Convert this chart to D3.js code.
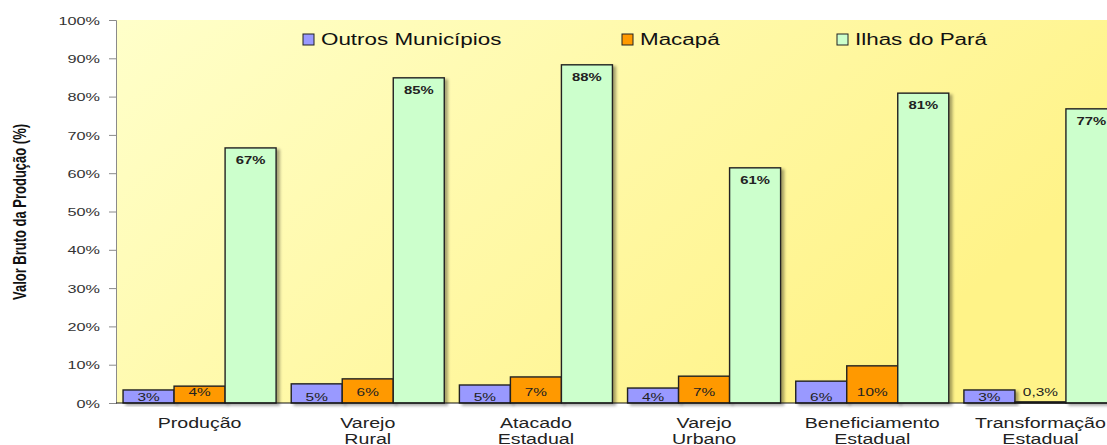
<!DOCTYPE html>
<html>
<head>
<meta charset="utf-8">
<script src="https://cdn.jsdelivr.net/npm/d3@7"></script>
<style>
  body { margin: 0; background: #fff; }
  svg { display: block; font-family: "Liberation Sans", Arial, sans-serif; }
</style>
</head>
<body>
<svg id="chart"></svg>
<script>
// chart data
var categories = ["Produção", "Varejo\nRural", "Atacado\nEstadual", "Varejo\nUrbano", "Beneficiamento\nEstadual", "Transformação\nEstadual"];
var seriesNames = ["Outros Municípios", "Macapá", "Ilhas do Pará"];
var outros = [3.4, 5.0, 4.7, 3.9, 5.7, 3.4];
var macapa = [4.4, 6.3, 6.8, 7.0, 9.7, 0.3];
var ilhas  = [66.6, 84.9, 88.3, 61.4, 80.9, 76.8];
var outrosLabels = ["3%", "5%", "5%", "4%", "6%", "3%"];
var macapaLabels = ["4%", "6%", "7%", "7%", "10%", "0,3%"];
var ilhasLabels  = ["67%", "85%", "88%", "61%", "81%", "77%"];
var yTicks = [0, 10, 20, 30, 40, 50, 60, 70, 80, 90, 100];
var yTitle = "Valor Bruto da Produção (%)";

var colors = ["#9999FF", "#FF9900", "#CCFFCC"];
var SX = 1.4; // the original picture is stretched sideways

var width = 1107, height = 445;
var padding = {left: 116, top: 20, bottom: 42};
var plotRight = 1124;

var svg = d3.select("#chart").attr("width", width).attr("height", height);

var defs = svg.append("defs");
var grad = defs.append("linearGradient").attr("id", "bg")
  .attr("gradientUnits", "userSpaceOnUse")
  .attr("x1", 116).attr("y1", 20).attr("x2", 600).attr("y2", 600);
grad.append("stop").attr("offset", "0").attr("stop-color", "#FFFFCA");
grad.append("stop").attr("offset", "1").attr("stop-color", "#FFF388");
var shadow = defs.append("filter").attr("id", "shadow")
  .attr("x", "-20%").attr("y", "-20%").attr("width", "150%").attr("height", "150%");
shadow.append("feDropShadow").attr("dx", 3).attr("dy", 2).attr("stdDeviation", 1.6)
  .attr("flood-color", "#000").attr("flood-opacity", 0.35);

var y = d3.scaleLinear().domain([0, 100]).range([height - padding.bottom, padding.top]);
var x = d3.scaleBand().domain(categories).range([padding.left, plotRight])
  .paddingInner(0.09).paddingOuter(0.042);
var xs = d3.scaleBand().domain(seriesNames).range([0, x.bandwidth()]);

// plot background
svg.append("rect")
  .attr("x", padding.left).attr("y", padding.top)
  .attr("width", plotRight - padding.left)
  .attr("height", y(0) - padding.top)
  .attr("fill", "url(#bg)");

// y axis
var yAxis = svg.append("g")
  .attr("transform", "translate(" + padding.left + ",0)")
  .call(d3.axisLeft(y).tickValues(yTicks).tickSize(7).tickFormat(function(d){ return d + "%"; }));
yAxis.select(".domain").attr("stroke", "#8a8a8a");
yAxis.selectAll(".tick line").attr("stroke", "#8a8a8a");
yAxis.selectAll(".tick text")
  .attr("x", null).attr("dy", null)
  .attr("dominant-baseline", "central")
  .attr("transform", "translate(-16,0) scale(" + SX + ",1)")
  .attr("fill", "#333").attr("font-size", 11.6)
  .attr("font-family", "Liberation Sans, Arial, sans-serif");

svg.append("text")
  .attr("transform", "translate(20," + 212 + ") scale(" + SX + ",1) rotate(-90)")
  .attr("text-anchor", "middle").attr("dominant-baseline", "central")
  .attr("font-size", 13).attr("font-weight", "bold").attr("fill", "#111")
  .text(yTitle);

// bars
var rows = categories.map(function(c, i){
  return {cat: c, vals: [outros[i], macapa[i], ilhas[i]],
          labels: [outrosLabels[i], macapaLabels[i], ilhasLabels[i]]};
});

var groups = svg.selectAll(".grp").data(rows).enter().append("g")
  .attr("class", "grp")
  .attr("transform", function(d){ return "translate(" + x(d.cat) + ",0)"; });

groups.selectAll("rect").data(function(d){
    return d.vals.map(function(v, k){ return {s: seriesNames[k], v: v, k: k, label: d.labels[k]}; });
  }).enter().append("rect")
  .attr("x", function(d){ return xs(d.s); })
  .attr("y", function(d){ return y(d.v); })
  .attr("width", xs.bandwidth())
  .attr("height", function(d){ return y(0) - y(d.v); })
  .attr("fill", function(d){ return colors[d.k]; })
  .attr("stroke", "#222").attr("stroke-width", 1.4)
  .attr("filter", "url(#shadow)");

// x axis line
svg.append("line")
  .attr("x1", padding.left).attr("x2", plotRight)
  .attr("y1", y(0)).attr("y2", y(0))
  .attr("stroke", "#111").attr("stroke-width", 1.2);

// bar labels
groups.selectAll(".lbl").data(function(d){
    return d.vals.map(function(v, k){ return {s: seriesNames[k], v: v, k: k, label: d.labels[k]}; });
  }).enter().append("text")
  .attr("class", "lbl")
  .attr("transform", function(d){
    var cx = xs(d.s) + xs.bandwidth() / 2;
    var cy = d.k === 2 ? y(d.v) + 12 : (d.k === 0 ? y(0) - 6 : y(0) - 11);
    return "translate(" + cx + "," + cy + ") scale(" + SX + ",1)";
  })
  .attr("text-anchor", "middle").attr("dominant-baseline", "central")
  .attr("font-size", function(d){ return d.k === 2 ? 10.6 : 11; })
  .attr("font-weight", function(d){ return d.k === 2 ? "bold" : "normal"; })
  .attr("fill", "#222")
  .text(function(d){ return d.label; });

// category labels
var catText = svg.selectAll(".cat").data(categories).enter().append("g")
  .attr("class", "cat")
  .attr("transform", function(d){ return "translate(" + (x(d) + x.bandwidth() / 2) + ",0)"; });
catText.selectAll("text").data(function(d){ return d.split("\n"); }).enter().append("text")
  .attr("transform", function(d, i){ return "translate(0," + (428 + i * 15.5) + ") scale(" + SX + ",1)"; })
  .attr("text-anchor", "middle")
  .attr("font-size", 14).attr("fill", "#222")
  .text(function(d){ return d; });

// legend
var legendX = [303, 622, 837];
var legend = svg.selectAll(".leg").data(seriesNames).enter().append("g")
  .attr("class", "leg")
  .attr("transform", function(d, i){ return "translate(" + legendX[i] + ",34)"; });
legend.append("rect")
  .attr("width", 11).attr("height", 11)
  .attr("fill", function(d, i){ return colors[i]; })
  .attr("stroke", "#222").attr("stroke-width", 1);
legend.append("text")
  .attr("transform", "translate(18,11) scale(" + SX + ",1)")
  .attr("font-size", 16).attr("fill", "#111")
  .text(function(d){ return d; });
</script>
</body>
</html>
